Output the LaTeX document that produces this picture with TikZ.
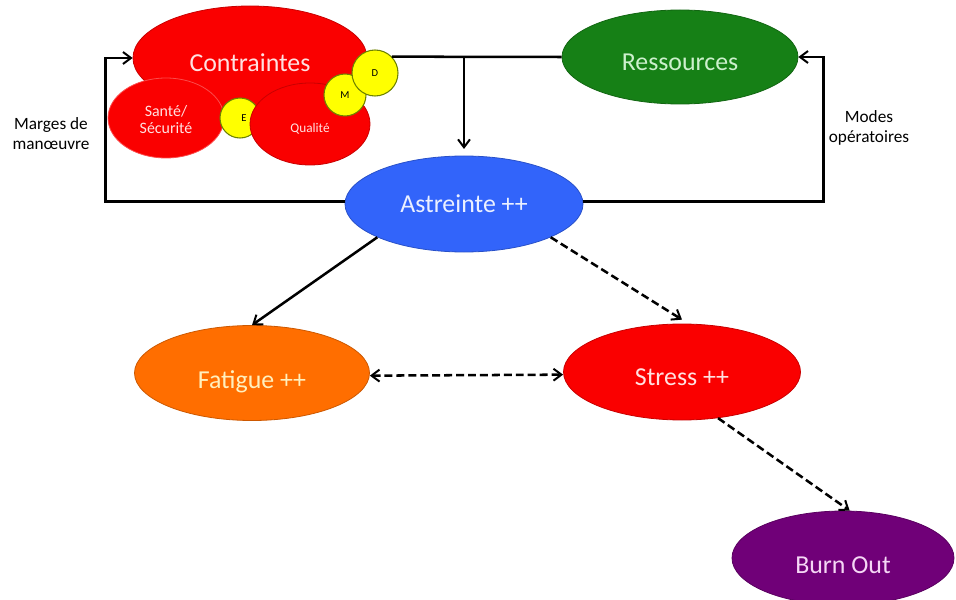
\documentclass[tikz,border=0pt]{standalone}
\usepackage{fontspec}
\setmainfont{Carlito}
\usetikzlibrary{shapes.geometric,arrows.meta}
\definecolor{cred}{RGB}{250,0,0}
\definecolor{cgreen}{RGB}{22,128,22}
\definecolor{cblue}{RGB}{50,100,250}
\definecolor{corange}{RGB}{255,110,0}
\definecolor{cpurple}{RGB}{112,0,120}
\definecolor{cyellow}{RGB}{255,255,0}
\newcommand\pxu{0.0265cm}
\newcommand\ctext[2]{\raisebox{\dimexpr-0.34em-#1\relax}[0pt][0pt]{#2}}
\tikzset{
  oval/.style={ellipse, inner sep=0pt, line width=0.6pt},
  big/.style={font=\fontsize{19.5}{22}\selectfont},
  dot/.style={circle, inner sep=0pt, fill=cyellow, draw={rgb,255:red,110;green,130;blue,0}, line width=0.8pt, font=\fontsize{8}{9}\selectfont, text=black},
  conn/.style={line width=1.9pt, draw=black},
  tip/.style={-{Straight Barb[length=6pt,width=9pt,line width=1.5pt]}},
  tips/.style={{Straight Barb[length=6pt,width=9pt,line width=1.5pt]}-{Straight Barb[length=6pt,width=9pt,line width=1.5pt]}},
  dsh/.style={dash pattern=on 6pt off 3pt},
  side/.style={align=center, font=\fontsize{13}{15}\selectfont}
}
\begin{document}
\begin{tikzpicture}[x=0.0265cm,y=-0.0265cm]
\useasboundingbox (0,0) rectangle (956,600);
% constraint cluster
\node[oval, big, fill=cred, draw=cred!80!black, minimum width=234*\pxu, minimum height=104*\pxu, text={rgb,255:red,255;green,225;blue,225}] (contr) at (250,58) {\ctext{3.5pt}{Contraintes}};
\node[oval, fill=cred, draw=cred!70!white, minimum width=116*\pxu, minimum height=80*\pxu, font=\fontsize{12}{14}\selectfont, text={rgb,255:red,255;green,225;blue,225}] (sante) at (166,118) {\raisebox{-5.5pt}[0pt][0pt]{\begin{tabular}{@{}c@{}}Santé/\\[-1pt]Sécurité\end{tabular}}};
\node[dot, minimum size=40*\pxu] (E) at (240,118) {\hspace*{6pt}E};
\node[oval, fill=cred, draw=cred!80!black, minimum width=120*\pxu, minimum height=82*\pxu, font=\fontsize{10}{12}\selectfont, text={rgb,255:red,255;green,225;blue,225}] (qual) at (310,124) {\ctext{3pt}{Qualité}};
\node[dot, minimum size=42*\pxu] (M) at (345,95) {M};
\node[dot, minimum size=46*\pxu] (D) at (375,73) {D};
% other ovals
\node[oval, big, fill=cgreen, draw=cgreen!80!black, minimum width=236*\pxu, minimum height=94*\pxu, text={rgb,255:red,205;green,240;blue,205}] (res) at (680,57) {\ctext{3.5pt}{Ressources}};
\node[oval, big, fill=cblue, draw=cblue!80!black, minimum width=238*\pxu, minimum height=96*\pxu, text={rgb,255:red,235;green,240;blue,255}] (astr) at (464,204) {\ctext{0pt}{Astreinte ++}};
\node[oval, big, fill=corange, draw=corange!80!black, minimum width=235*\pxu, minimum height=95*\pxu, text={rgb,255:red,255;green,240;blue,190}] (fat) at (252,373) {\ctext{5pt}{Fatigue ++}};
\node[oval, big, fill=cred, draw=cred!80!black, minimum width=237*\pxu, minimum height=96*\pxu, text={rgb,255:red,255;green,225;blue,225}] (stress) at (682,372) {\ctext{3.8pt}{Stress ++}};
\node[oval, big, fill=cpurple, draw=cpurple!80!black, minimum width=222*\pxu, minimum height=94*\pxu, text={rgb,255:red,245;green,215;blue,245}] (burn) at (843,558) {\ctext{5pt}{Burn Out}};
% side labels
\node[side] (marges) at (51,134) {Marges de\\manœuvre};
\node[side] (modes) at (869,128) {Modes\\opératoires};
% connectors
\coordinate (j) at (464,57);
\draw[conn] (D.44) -- (res.west);
\draw[conn, tip] (j) -- ([yshift=5pt]astr.north);
\draw[conn, tip] ([yshift=2pt]astr.west) -- ++(-239,0) |- (contr.west);
\draw[conn, tip] ([yshift=2pt]astr.east) -- ++(240,0) |- (res.east);
\draw[conn, tip] (astr.201) -- (fat.north);
\draw[conn, tip, dsh] (astr.-21) -- ([yshift=3pt]stress.north);
\draw[conn, tips, dsh] ([yshift=-2pt]fat.east) -- ([yshift=-2pt]stress.west);
\draw[conn, tip, dsh] (stress.-52) -- ([xshift=5pt]burn.north);
\end{tikzpicture}
\end{document}
